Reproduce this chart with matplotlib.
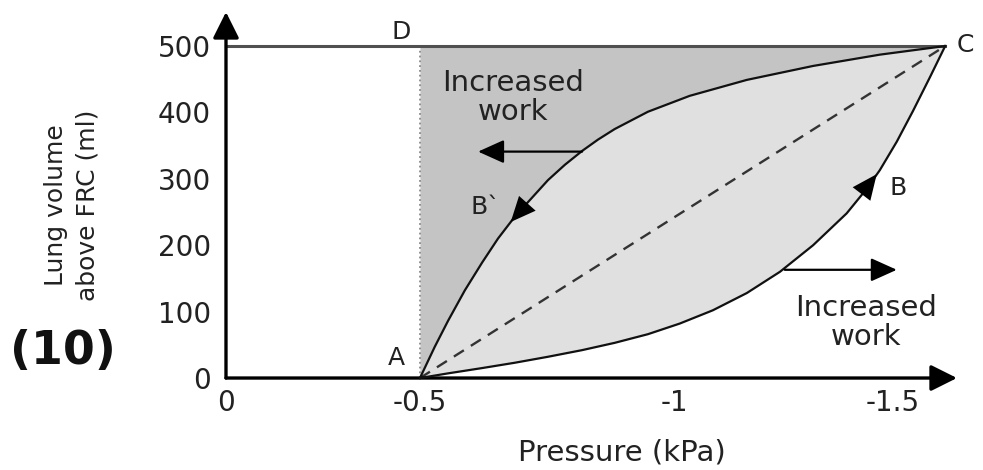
import numpy as np
import matplotlib.pyplot as plt

# ---- data ----
vol_ticks = [0, 100, 200, 300, 400, 500]
p_ticks = [0, -0.5, -1, -1.5]
p_tick_labels = ['0', '-0.5', '-1', '-1.5']

# inspiration A -> B -> C
insp_p = [-0.5, -0.555, -0.622, -0.686, -0.751, -0.818, -0.882, -0.947,
          -1.011, -1.087, -1.165, -1.241, -1.317, -1.394, -1.44, -1.47,
          -1.509, -1.546, -1.585, -1.62]
insp_v = [0, 7, 15, 23, 32, 42, 53, 66, 82, 102, 128, 160, 200, 248, 285,
          313, 356, 402, 453, 500]

# expiration C -> B` -> A (stored from A to C)
exp_p = [-0.5, -0.529, -0.555, -0.588, -0.622, -0.653, -0.686, -0.751,
         -0.784, -0.818, -0.849, -0.882, -0.947, -1.034, -1.165, -1.317,
         -1.47, -1.62]
exp_v = [0, 47, 86, 132, 174, 210, 243, 298, 321, 342, 359, 375, 401, 425,
         449, 470, 487, 500]

top_v = 500

# direction heads (tip, base) and "increased work" arrows (tail, tip)
bdash_head = [(-0.678, 235), (-0.751, 298)]
b_head = [(-1.463, 307), (-1.394, 248)]
work_left = [(-0.818, 341), (-0.614, 341)]
work_right = [(-1.252, 163), (-1.509, 163)]

# the original axis is not evenly spaced: piecewise scale through the ticks
knot_p = [-3, -1.5, -1, -0.5, 0, 2]
knot_u = [-1547, -893, -675, -420, -226, 550]


def fwd(p):
    return np.interp(p, knot_p, knot_u)


def inv(u):
    return np.interp(u, knot_u, knot_p)


fig = plt.figure(figsize=(9.83, 4.70), dpi=100)
ax = fig.add_axes([0.2299, 0.1957, 0.7436, 0.7787])
ax.set_xscale('function', functions=(fwd, inv))
ax.set_xlim(0, -1.647)
ax.set_ylim(0, 551.2)

for s in ax.spines.values():
    s.set_visible(False)

# shaded areas
ax.fill_between(exp_p, exp_v, top_v, color='#c4c4c4', lw=0, zorder=1)
ax.fill(np.concatenate([exp_p, insp_p[::-1]]),
        np.concatenate([exp_v, insp_v[::-1]]),
        color='#e0e0e0', lw=0, zorder=1)

# D-C line and dotted line at A
ax.plot([0, exp_p[-1]], [top_v, top_v], color='#505050', lw=2.2, zorder=3,
        clip_on=False)
ax.plot([exp_p[0], exp_p[0]], [0, top_v], color='#8a8a8a', lw=1.3, ls=':',
        zorder=2)

# dashed line A-C
ax.plot([exp_p[0], exp_p[-1]], [exp_v[0], exp_v[-1]], color='#333333',
        lw=1.7, ls=(0, (5, 3.5)), zorder=3)

# loops
ax.plot(insp_p, insp_v, color='#111111', lw=1.6, zorder=4, clip_on=False,
        solid_joinstyle='round')
ax.plot(exp_p, exp_v, color='#111111', lw=1.6, zorder=4, clip_on=False,
        solid_joinstyle='round')

head_only = dict(arrowstyle='-|>,head_length=0.45,head_width=0.2',
                 mutation_scale=40, color='black', lw=0,
                 shrinkA=0, shrinkB=0)
for tip, base in [bdash_head, b_head]:
    ax.annotate('', xy=tip, xytext=base, arrowprops=head_only, zorder=5)

arrow = dict(arrowstyle='-|>,head_length=0.4,head_width=0.18',
             mutation_scale=40, color='black', lw=1.6,
             shrinkA=0, shrinkB=0)
for tail, tip in [work_left, work_right]:
    ax.annotate('', xy=tip, xytext=tail, arrowprops=arrow, zorder=5)

# axes with arrow heads
axis_arrow = dict(arrowstyle='-|>,head_length=0.4,head_width=0.2',
                  mutation_scale=40, color='black', lw=2.4,
                  shrinkA=0, shrinkB=0)
ax.annotate('', xy=(0, 1), xycoords='axes fraction', xytext=(0, 0),
            arrowprops=axis_arrow, annotation_clip=False)
ax.annotate('', xy=(1, 0), xycoords='axes fraction', xytext=(0, 0),
            arrowprops=axis_arrow, annotation_clip=False)

ax.set_xticks(p_ticks, p_tick_labels)
ax.set_yticks(vol_ticks)
ax.tick_params(axis='y', length=0, pad=11, labelsize=20, labelcolor='#222222')
ax.tick_params(axis='x', length=0, pad=8, labelsize=20, labelcolor='#222222')

# point letters
lt = dict(fontsize=18, color='#222222', ha='center', va='center')
ax.text(-0.451, 521, 'D', **lt)
ax.text(-1.667, 501, 'C', clip_on=False, **lt)
ax.text(-0.438, 30, 'A', **lt)
ax.text(-0.629, 257, 'B`', **lt)
ax.text(-1.511, 286, 'B', **lt)

ax.text(-0.682, 422, 'Increased\nwork', fontsize=21, color='#222222',
        ha='center', va='center', linespacing=1.05)
ax.text(-1.438, 84, 'Increased\nwork', fontsize=21, color='#222222',
        ha='center', va='center', linespacing=1.05)

fig.text(622 / 983, 1 - 452 / 470, 'Pressure (kPa)', fontsize=21,
         color='#222222', ha='center', va='center')
fig.text(72 / 983, 1 - 205 / 470, 'Lung volume\nabove FRC (ml)', fontsize=18,
         color='#222222', ha='center', va='center', rotation=90,
         linespacing=1.4)
fig.text(63 / 983, 1 - 352 / 470, '(10)', fontsize=33, fontweight='bold',
         color='#111111', ha='center', va='center')

fig.savefig('out.png', dpi=100)
